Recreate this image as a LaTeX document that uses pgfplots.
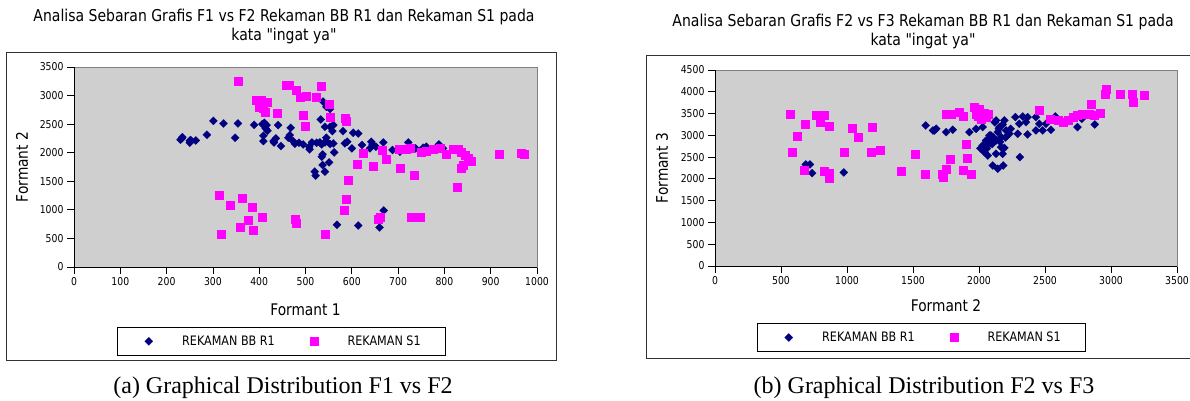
\documentclass[border=0pt]{standalone}
\usepackage{fontspec}
\setmainfont{Liberation Serif}
\newfontfamily\chartfont[FakeStretch=0.86]{DejaVu Sans}
\usepackage{pgfplots}
\pgfplotsset{compat=1.18}
\definecolor{navy}{RGB}{0,0,128}
\definecolor{mag}{RGB}{255,0,255}
\definecolor{plotgray}{RGB}{207,207,207}
\definecolor{bordergray}{RGB}{128,128,128}
\definecolor{framegray}{RGB}{51,51,51}
\pgfplotsset{
  chart/.style={
    scale only axis,
    axis background/.style={fill=plotgray},
    axis line style={draw=bordergray, line width=0.8pt},
    tick align=outside,
    xtick pos=left, ytick pos=left,
    major tick length=7pt,
    tick style={black, line width=0.8pt},
    /pgf/number format/assume math mode=true,
    /pgf/number format/1000 sep={},
    ticklabel style={font=\chartfont\fontsize{10.8}{12}\selectfont},
    label style={font=\chartfont\fontsize{16}{18}\selectfont},
    legend style={draw=black, line width=0.8pt, fill=white, inner sep=0pt,
      font=\chartfont\fontsize{13}{15}\selectfont,
      /tikz/every even column/.append style={column sep=0pt}, nodes={inner sep=2pt}},
    legend columns=2,
    clip=false,
  },
  bbr/.style={only marks, color=navy, mark=square*, mark size=2.9pt,
    mark options={rotate=45, fill=navy, draw=navy, line width=0.1pt},
    legend image code/.code={\path (0pt,-13.5pt) (62pt,13.5pt); \draw[##1] plot coordinates {(31pt,0pt)};}},
  sone/.style={only marks, color=mag, mark=square*, mark size=4pt,
    mark options={fill=mag, draw=mag, line width=0.1pt},
    legend image code/.code={\path (0pt,-13.5pt) (68pt,13.5pt); \draw[##1] plot coordinates {(37pt,0pt)};}},
}
\begin{document}
\begin{tikzpicture}
\useasboundingbox (0pt,0pt) rectangle (1190pt,400pt);
\fill[white] (0pt,0pt) rectangle (1190pt,400pt);
% chart frames
\draw[framegray, line width=1pt] (6.7pt,347.7pt) rectangle (556.3pt,39.3pt);
\draw[framegray, line width=1pt] (646.7pt,344.3pt) rectangle (1200pt,41.7pt);
% titles
\node[font=\chartfont\fontsize{16.3}{19}\selectfont, align=center] at (284pt,373.5pt)
  {Analisa Sebaran Grafis F1 vs F2 Rekaman BB R1 dan Rekaman S1 pada\\kata "ingat ya"};
\node[font=\chartfont\fontsize{16.3}{19}\selectfont, align=center] at (923pt,368.5pt)
  {Analisa Sebaran Grafis F2 vs F3 Rekaman BB R1 dan Rekaman S1 pada\\kata "ingat ya"};
% captions
\node[anchor=base, font=\fontsize{24}{28}\selectfont] at (283pt,7pt) {(a) Graphical Distribution F1 vs F2};
\node[anchor=base, font=\fontsize{24}{28}\selectfont] at (924pt,7pt) {(b) Graphical Distribution F2 vs F3};

% ---------------- left chart ----------------
\begin{scope}[shift={(74pt,133pt)}]
\begin{axis}[chart, at={(0pt,0pt)}, anchor=south west, width=463pt, height=200pt,
  xmin=0, xmax=1000, ymin=0, ymax=3500,
  xtick={0,100,...,1000}, ytick={0,500,...,3500},
  xlabel={Formant 1}, ylabel={Formant 2},
  xlabel style={at={(axis description cs:0.5,-0.215)}, anchor=center},
  ylabel style={at={(axis description cs:-0.1123,0.5)}, anchor=center},
  legend style={at={(axis description cs:0.0929,-0.30)}, anchor=north west},
]
\addplot[bbr] table {
x y
230 2227
234 2273
233 2251
250 2174
252 2221
250 2209
263 2215
287 2314
301 2558
323 2512
348 2262
354 2512
389 2488
407 2500
411 2523
416 2483
414 2424
409 2297
409 2204
418 2384
431 2204
436 2250
432 2180
441 2483
447 2116
463 2262
468 2436
466 2308
473 2204
477 2157
486 2174
495 2145
509 2058
508 2105
514 2180
524 2174
531 2180
535 2145
533 2581
538 2895
537 1971
535 1930
545 2802
553 2767
542 2453
545 2262
542 2180
545 2204
553 2151
553 2453
560 2483
558 2378
560 2163
537 1785
542 1669
551 1831
520 1669
522 1599
562 2006
581 2378
585 2163
590 2192
600 2076
603 2349
614 2337
622 2134
642 2192
645 2145
639 2076
652 2105
668 2180
688 2047
704 2018
722 2180
725 2105
738 2076
754 2087
761 2105
788 2145
797 2076
568 738
614 727
660 692
669 988
};
\addlegendentry{REKAMAN BB R1}
\addplot[sone] table {
x y
355 3256
459 3180
465 3180
480 3093
489 2977
502 2988
522 2977
534 3163
550 2849
393 2918
405 2930
417 2889
400 2802
409 2773
412 2715
438 2686
494 2657
500 2459
554 2622
585 2599
587 2558
625 2000
611 1797
646 1767
665 2047
673 1890
704 1738
702 2058
718 2064
725 2076
734 1610
750 2018
761 2035
776 2058
790 2076
804 1977
819 2058
829 2058
837 2018
844 1959
851 1901
858 1855
840 1785
837 1738
827 1407
918 1971
965 2000
972 1977
592 1523
588 1192
583 994
314 1262
336 1087
363 1198
384 1047
376 814
358 692
386 651
406 866
317 581
478 843
480 767
543 570
657 843
662 866
727 866
747 878
};
\addlegendentry{REKAMAN S1\rule{23pt}{0pt}}
\draw[black, line width=0.8pt] (rel axis cs:0,1) -- (rel axis cs:0,0) -- (rel axis cs:1,0);
\end{axis}
\end{scope}

% ---------------- right chart ----------------
\begin{scope}[shift={(715pt,134pt)}]
\begin{axis}[chart, at={(0pt,0pt)}, anchor=south west, width=462pt, height=196pt,
  xmin=0, xmax=3500, ymin=0, ymax=4500,
  xtick={0,500,...,3500}, ytick={0,500,...,4500},
  xlabel={Formant 2}, ylabel={Formant 3},
  xlabel style={at={(axis description cs:0.5,-0.204)}, anchor=center},
  ylabel style={at={(axis description cs:-0.1147,0.5)}, anchor=center},
  legend style={at={(axis description cs:0.0909,-0.292)}, anchor=north west},
]
\addplot[bbr] table {
x y
688 2331
719 2331
736 2132
976 2148
1596 3227
1651 3112
1676 3150
1663 3112
1751 3074
1801 3127
1927 3074
1978 3150
2028 3189
2129 3342
2192 3342
2154 3189
2205 3112
2079 2997
2053 2882
2028 2768
2066 2768
2041 2615
2066 2538
2129 2576
2179 2576
2167 2729
2192 2714
2104 2308
2142 2232
2184 2308
2142 3074
2167 2959
2129 2882
2230 3036
2293 3036
2275 3418
2331 3433
2368 3418
2305 3265
2356 3303
2368 3020
2310 2500
2431 3418
2457 3265
2431 3112
2482 3112
2507 3265
2545 3127
2578 3433
2746 3189
2779 3380
2877 3250
2090 3000
2110 2950
2150 3150
2180 3250
2200 2950
2215 3000
2240 3150
2100 2800
2060 2700
2010 2700
2080 2900
2120 3300
2160 2850
};
\addlegendentry{REKAMAN BB R1}
\addplot[sone] table {
x y
567 3495
681 3250
623 2974
580 2607
764 3456
824 3456
799 3303
862 3204
676 2194
824 2178
865 2132
865 2025
1039 3166
1087 2959
1192 3189
981 2607
1182 2607
1250 2653
1517 2576
1409 2171
1593 2117
1730 2050
1751 3479
1789 3495
1852 3533
1877 3441
1965 3648
2003 3609
1978 3495
2028 3456
2066 3495
2016 3380
1990 3580
2040 3520
2050 3420
1995 3450
1902 2791
1907 2484
1781 2462
1751 2232
1721 2117
1877 2194
1940 2117
2452 3586
2537 3380
2595 3342
2633 3303
2671 3342
2709 3418
2746 3456
2784 3495
2830 3479
2872 3456
2915 3510
2847 3709
2961 4069
2956 3954
3066 3939
3157 3939
3167 3763
3248 3916
};
\addlegendentry{REKAMAN S1\rule{23pt}{0pt}}
\draw[black, line width=0.8pt] (rel axis cs:0,1) -- (rel axis cs:0,0) -- (rel axis cs:1,0);
\end{axis}
\end{scope}
\end{tikzpicture}
\end{document}
